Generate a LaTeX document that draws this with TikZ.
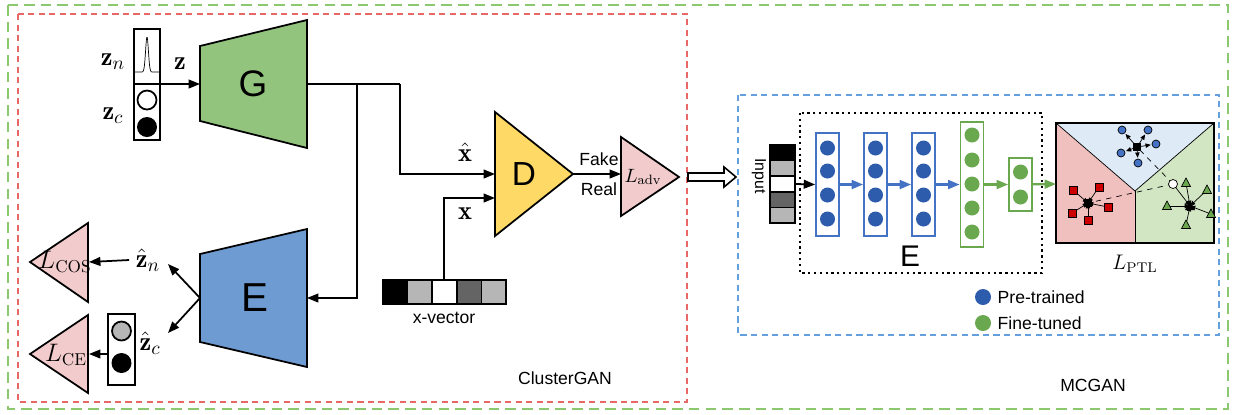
\documentclass[tikz,border=0pt]{standalone}
\usepackage{xcolor}
\usepackage{amsmath,amssymb}
\usepackage{fontspec}
\newfontfamily\arial{Liberation Sans}
\usetikzlibrary{
		arrows.meta,
		calc,
		positioning
	}
\tikzset{
		>={Stealth[length=6.5pt,width=5pt,inset=0pt]}
	}
\definecolor{ggreen}{RGB}{147,196,125}
\definecolor{eblue}{RGB}{109,155,210}
\definecolor{dyellow}{RGB}{255,217,102}
\definecolor{lpink}{RGB}{242,204,204}
\definecolor{nblue}{RGB}{46,92,172}
\definecolor{nbluebd}{RGB}{68,114,196}
\definecolor{ngreen}{RGB}{106,168,79}
\definecolor{reddash}{RGB}{232,104,104}
\definecolor{bluedash}{RGB}{100,160,222}
\definecolor{greendash}{RGB}{140,200,110}
\definecolor{preg}{RGB}{240,192,190}
\definecolor{treg}{RGB}{222,234,246}
\definecolor{greg}{RGB}{210,230,196}
\definecolor{lgray}{RGB}{182,182,182}
\definecolor{dgray}{RGB}{100,100,100}
\tikzset{
		sans/.style={font=\arial\fontsize{10}{11}\selectfont},
		mth/.style={font=\fontsize{15}{17}\selectfont},
		bigl/.style={font=\arial\fontsize{#1}{#1}\selectfont},
		loss/.style={fill=lpink,draw=black,line width=1pt},
		layerb/.style={draw=nbluebd,line width=1pt,minimum width=0.46cm,inner sep=0pt},
		layerg/.style={draw=ngreen,line width=1pt,minimum width=0.46cm,inner sep=0pt},
		small arrow/.style={->,>={Stealth[length=3pt,width=2.5pt,inset=0pt]}}
	}

\begin{document}
\begin{tikzpicture}[x=0.02cm,y=-0.02cm,line width=1pt]
          \useasboundingbox (0,0) rectangle (1240,414);

          % frames
          \draw[greendash,dash pattern=on 6pt off 3.5pt] (8,5) rectangle (1228,409);
          \draw[reddash,dash pattern=on 3.5pt off 2.5pt] (18,14) rectangle (687,402);
          \draw[bluedash,dash pattern=on 3.5pt off 2.5pt] (738,95) rectangle (1219,335);
          \node[sans] (cgan) at (565,378) {ClusterGAN};
          \node[sans] (mcgan) at (1093,385) {MCGAN};

          % latent code z
          \draw (134,29) rectangle (160,140);
          \draw (134,84) -- (160,84);
          \draw[thin,domain=-12:12,samples=60] plot ({\x+147},{72-35*exp(-((\x)^2)/4)});
          \draw[fill=white] (147,100) circle (9.5);
          \fill (147,127) circle (10);
          \node[mth] (zn) at (113,62) {$\mathbf{z}_n$};
          \node[mth] (zc) at (113,116) {$\mathbf{z}_c$};
          \node[mth] (z) at (180,64) {$\mathbf{z}$};
          \coordinate (zout) at (160,84);

          % generator
          \filldraw[fill=ggreen] (200,46) -- (307,20) -- (307,148) -- (200,121) -- cycle;
          \node[bigl=21] (G) at (253,84) {G};
          \coordinate (Gin) at (200,84);
          \coordinate (Gout) at (307,84);
          \draw[->] (zout) -- (Gin);

          % encoder
          \filldraw[fill=eblue] (200,254) -- (307,229) -- (307,367) -- (200,342) -- cycle;
          \node[bigl=23] (E) at (255,298) {E};
          \coordinate (Ein) at (307,298);
          \coordinate (Eout) at (200,298);

          % discriminator
          \filldraw[fill=dyellow] (495,112) -- (573,174) -- (495,236) -- cycle;
          \node[bigl=19] (D) at (524,174) {D};
          \coordinate (Din1) at (495,174);
          \coordinate (Din2) at (495,198);
          \coordinate (Dout) at (573,174);

          \draw (Gout) -- (400,84) coordinate (g1);
          \draw[->] (g1) |- (Din1);
          \draw[->] (357,84) |- (Ein);
          \node[mth] (xh) at (465,152) {$\hat{\mathbf{x}}$};
          \node[mth] (xr) at (465,214) {$\mathbf{x}$};

          % x-vector
          \foreach \c [count=\i from 0] in {black,lgray,white,dgray,lgray}
            \filldraw[fill=\c] ({383+24.6*\i},280) rectangle ({383+24.6*(\i+1)},304);
          \node[sans] (xv) at (444,318) {x-vector};
          \coordinate (xvout) at (444,280);
          \draw[->] (xvout) |- (Din2);

          % adversarial loss
          \filldraw[loss] (621,137) -- (679,177) -- (621,216) -- cycle;
          \node[font=\fontsize{11}{13}\selectfont] (ladv) at (643,177) {$L_{\mathrm{adv}}$};
          \coordinate (ladvin) at (621,174);
          \draw[->] (Dout) -- (ladvin);
          \node[sans] (fake) at (599,159) {Fake};
          \node[sans] (real) at (599,189) {Real};

          % reconstructed codes
          \node[mth] (zhn) at (148,260) {$\hat{\mathbf{z}}_n$};
          \node[mth] (zhc) at (150,343) {$\hat{\mathbf{z}}_c$};
          \draw[->] (Eout) -- (168,264);
          \draw[->] (Eout) -- (168,333);
          \filldraw[loss] (30,262) -- (88,223) -- (88,302) -- cycle;
          \node[font=\fontsize{14}{16}\selectfont] (lcos) at (65,262) {$L_{\mathrm{COS}}$};
          \filldraw[loss] (30,354) -- (88,315) -- (88,393) -- cycle;
          \node[font=\fontsize{14}{16}\selectfont] (lce) at (66,355) {$L_{\mathrm{CE}}$};
          \draw[->] (zhn.west) -- (89,262);
          \draw (108,314) rectangle (135,385);
          \draw[fill=lgray] (121.5,331) circle (9.5);
          \fill (121.5,363) circle (10);
          \draw[->] (108,354) -- (89,354);

          % hollow arrow
          \draw[fill=white,line width=0.9pt] (688,173) -- (724,173) -- (724,167) -- (736,177)
                -- (724,187) -- (724,181) -- (688,181) -- cycle;

          % MCGAN input
          \foreach \c [count=\i from 0] in {black,lgray,white,dgray,lgray}
            \filldraw[fill=\c] (770,{145+15.6*\i}) rectangle (795,{145+15.6*(\i+1)});
          \node[sans,font=\arial\fontsize{9}{10}\selectfont,rotate=-90] (inp) at (759,176) {Input};
          \coordinate (inout) at (795,184);

          % encoder layers
          \draw[dotted,line width=1.3pt] (800,113) rectangle (1042,273);
          \node[bigl=17] (E2) at (910,256) {E};
          \foreach \n/\xc in {l1/827.5,l2/875.5,l3/923.5}{
            \node[layerb,minimum height=2.06cm] (\n) at (\xc,184.5) {};
            \foreach \yc in {148,171,195,219}
              \fill[nblue] (\xc,\yc) circle (7.5);
          }
          \node[layerg,minimum height=2.5cm] (l4) at (972,184.5) {};
          \foreach \yc in {135,160,184,208,232}
            \fill[ngreen] (972,\yc) circle (7.5);
          \node[layerg,minimum height=1.06cm] (l5) at (1020.5,184.5) {};
          \foreach \yc in {172,197}
            \fill[ngreen] (1020.5,\yc) circle (7.5);
          \draw[->] (inout) -- (l1.west);
          \draw[->,nbluebd,line width=1.3pt] (l1) -- (l2);
          \draw[->,nbluebd,line width=1.3pt] (l2) -- (l3);
          \draw[->,nbluebd,line width=1.3pt] (l3) -- (l4);
          \draw[->,ngreen,line width=1.3pt] (l4) -- (l5);

          % prototype space
          \fill[preg] (1056,123) -- (1135,191) -- (1135,243) -- (1056,243) -- cycle;
          \fill[treg] (1056,123) -- (1214,123) -- (1135,191) -- cycle;
          \fill[greg] (1214,123) -- (1214,243) -- (1135,243) -- (1135,191) -- cycle;
          \draw[thin] (1056,123) -- (1135,191) -- (1214,123);
          \draw[thin] (1135,191) -- (1135,243);
          \draw[line width=1.3pt] (1056,123) rectangle (1214,243);
          \coordinate (ptl) at (1056,184);
          \draw[->,ngreen,line width=1.3pt] (l5) -- (ptl);
          \node[font=\fontsize{12}{14}\selectfont] (lptl) at (1135,264) {$L_{\mathrm{PTL}}$};

          \coordinate (cb) at (1137,147);
          \coordinate (cr) at (1088,203);
          \coordinate (cg) at (1190,206);
          \coordinate (q) at (1173,184);
          \draw[thin,dashed] (q) -- (cb);
          \draw[thin,dashed] (q) -- (cr);
          \draw[thin,small arrow] (q) -- (cg);
          \foreach \px/\py in {1122/130,1148/130,1156/144,1121/153,1138/163}{
            \draw[thin,small arrow,shorten >=3pt] (cb) -- (\px,\py);
            \filldraw[fill=nbluebd,thin] (\px,\py) circle (4);
          }
          \foreach \px/\py in {1073/190,1099/187,1108/207,1072/213,1088/220}{
            \draw[thin,small arrow] (\px,\py) -- (cr);
            \filldraw[fill=red!80!black,thin] ($(\px,\py)+(-4,-4)$) rectangle ($(\px,\py)+(4,4)$);
          }
          \foreach \px/\py in {1186/183,1207/190,1167/206,1211/214,1186/225}{
            \draw[thin,small arrow] (\px,\py) -- (cg);
            \filldraw[fill=ngreen,thin] ($(\px,\py)+(0,-5)$) -- ($(\px,\py)+(4.5,3.5)$) -- ($(\px,\py)+(-4.5,3.5)$) -- cycle;
          }
          \fill (1133,143) rectangle (1141,151);
          \fill (1084,199) rectangle (1092,207);
          \fill (1190,201) -- (1195,210) -- (1185,210) -- cycle;
          \filldraw[fill=white,thin] (q) circle (4.5);

          % legend
          \fill[nblue] (983,297) circle (8);
          \node[sans] (pre) at (991,297) [anchor=west] {Pre-trained};
          \fill[ngreen] (983,323) circle (8);
          \node[sans] (fine) at (991,323) [anchor=west] {Fine-tuned};

          \end{tikzpicture}
\end{document}
